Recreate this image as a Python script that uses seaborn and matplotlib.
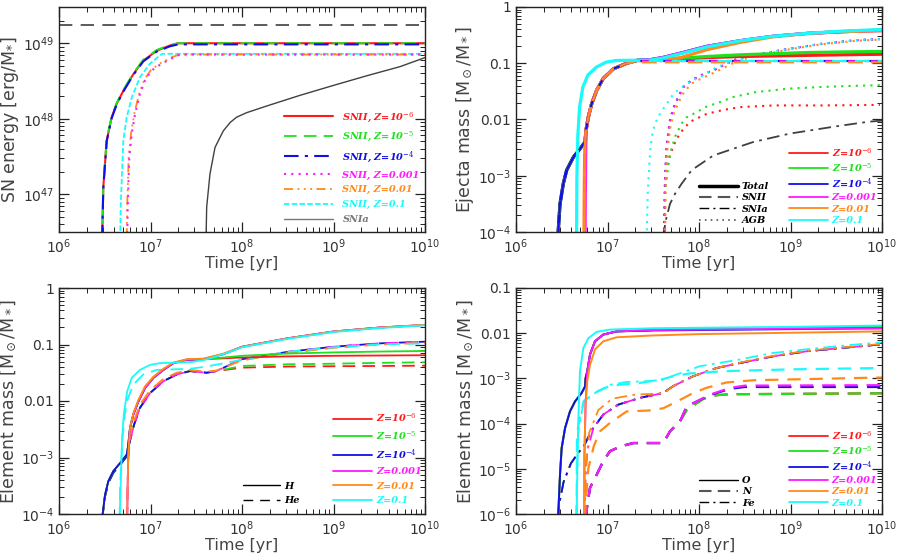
import numpy as np
import matplotlib
matplotlib.use('Agg')
import matplotlib.pyplot as plt
import seaborn as sns
from matplotlib.lines import Line2D
from matplotlib.ticker import FuncFormatter, LogLocator, NullFormatter

# --- colours per metallicity
RED, GREEN, BLUE = '#ff1a1a', '#1ee01e', '#1010e6'
MAG, ORA, CYA = '#ff1aff', '#ff8a1a', '#1afafa'
GRAY = '#404040'

z_labels = ['Z=10$^{-6}$', 'Z=10$^{-5}$', 'Z=10$^{-4}$', 'Z=0.001', 'Z=0.01', 'Z=0.1']
z_colors = [RED, GREEN, BLUE, MAG, ORA, CYA]

# ---------------- panel 1 : SN energy (log10 t, log10 E)
e_t_lowz = [6.47, 6.473, 6.484, 6.521, 6.576, 6.631, 6.703, 6.812, 6.921, 7.068, 7.213, 7.304, 10.0]
e_red = [46.0, 46.48, 47.09, 47.71, 48.02, 48.20, 48.37, 48.59, 48.77, 48.90, 48.97, 49.0, 49.0]
e_green = [46.0, 46.5, 47.1, 47.72, 48.03, 48.21, 48.38, 48.6, 48.78, 48.91, 48.975, 49.0, 49.0]
e_blue = [46.0, 46.47, 47.08, 47.70, 48.01, 48.19, 48.36, 48.58, 48.76, 48.89, 48.96, 48.985, 48.985]
e_t_mag = [6.74, 6.751, 6.768, 6.795, 6.831, 6.885, 6.940, 7.013, 7.122, 7.249, 7.32, 10.0]
e_mag = [46.0, 46.83, 47.49, 47.80, 48.06, 48.33, 48.51, 48.64, 48.73, 48.81, 48.85, 48.85]
e_t_ora = [6.735, 6.745, 6.762, 6.789, 6.825, 6.878, 6.934, 7.006, 7.115, 7.242, 7.32, 10.0]
e_ora = [46.0, 46.85, 47.5, 47.82, 48.08, 48.34, 48.52, 48.65, 48.74, 48.82, 48.85, 48.85]
e_t_cyan = [6.664, 6.674, 6.703, 6.740, 6.795, 6.885, 6.995, 7.104, 7.13, 10.0]
e_cyan = [46.0, 46.83, 47.71, 48.02, 48.28, 48.55, 48.73, 48.84, 48.86, 48.86]
e_t_snia = [7.60, 7.614, 7.650, 7.705, 7.796, 7.87, 7.94, 8.05, 8.273, 8.634, 8.995, 9.366, 9.727, 10.0]
e_snia = [46.0, 46.83, 47.27, 47.62, 47.84, 47.95, 48.02, 48.08, 48.17, 48.31, 48.44, 48.57, 48.69, 48.81]
e_t_ref = [6.0, 10.0]
e_ref = [49.24, 49.24]

# ---------------- panel 2 : ejecta mass
m_t_lowz = [6.46, 6.462, 6.481, 6.517, 6.554, 6.627, 6.700, 6.754, 6.765, 6.790, 6.827, 6.882, 6.954,
            7.064, 7.210, 7.319, 7.465, 7.6, 7.8, 8.084, 8.448, 8.812, 9.177, 9.541, 10.0]
m_tot_red = [-4.1, -3.97, -3.50, -3.14, -2.90, -2.67, -2.52, -2.40, -2.19, -1.96, -1.72, -1.48, -1.27,
             -1.10, -1.00, -0.95, -0.937, -0.93, -0.92, -0.90, -0.88, -0.87, -0.86, -0.85, -0.84]
m_tot_green = [-4.1, -3.97, -3.50, -3.14, -2.90, -2.67, -2.52, -2.40, -2.19, -1.96, -1.72, -1.48, -1.27,
               -1.10, -1.00, -0.95, -0.937, -0.93, -0.91, -0.88, -0.85, -0.83, -0.81, -0.80, -0.79]
m_tot_blue = [-4.1, -3.97, -3.50, -3.14, -2.90, -2.67, -2.52, -2.40, -2.19, -1.96, -1.72, -1.48, -1.27,
              -1.10, -1.00, -0.95, -0.937, -0.90, -0.82, -0.70, -0.60, -0.52, -0.47, -0.44, -0.41]
m_t_mag = [6.755, 6.757, 6.760, 6.763, 6.768, 6.790, 6.827, 6.882, 6.954, 7.064, 7.210, 7.319, 7.465,
           7.6, 7.8, 8.084, 8.448, 8.812, 9.177, 9.541, 10.0]
m_tot_mag = [-4.1, -3.43, -2.9, -2.45, -2.19, -1.96, -1.72, -1.48, -1.27, -1.10, -1.00, -0.95, -0.937,
             -0.90, -0.82, -0.70, -0.60, -0.52, -0.47, -0.44, -0.42]
m_t_ora = [6.743, 6.745, 6.748, 6.752, 6.765, 6.790, 6.827, 6.882, 6.954, 7.064, 7.210, 7.319, 7.465,
           7.6, 7.8, 8.084, 8.448, 8.812, 9.177, 9.541, 10.0]
m_tot_ora = [-4.1, -3.43, -2.9, -2.45, -2.19, -1.96, -1.72, -1.48, -1.27, -1.10, -1.00, -0.95, -0.96,
             -0.94, -0.90, -0.76, -0.63, -0.53, -0.47, -0.44, -0.42]
m_t_cyan = [6.662, 6.666, 6.677, 6.695, 6.731, 6.786, 6.877, 6.986, 7.095, 7.46, 7.6, 7.8, 8.084, 8.448,
            8.812, 9.177, 9.541, 10.0]
m_tot_cyan = [-4.1, -2.96, -2.25, -1.78, -1.42, -1.21, -1.07, -0.98, -0.95, -0.945, -0.91, -0.83, -0.71,
              -0.60, -0.52, -0.47, -0.43, -0.40]

m_t_snii_lowz = [6.46, 6.462, 6.481, 6.517, 6.554, 6.627, 6.700, 6.754, 6.765, 6.790, 6.827, 6.882, 6.954,
                 7.064, 7.210, 7.319, 10.0]
m_snii_lowz = [-4.1, -3.97, -3.50, -3.14, -2.90, -2.67, -2.52, -2.40, -2.19, -1.96, -1.72, -1.48, -1.27,
               -1.10, -1.00, -0.96, -0.96]
m_t_snii_mid = [6.743, 6.745, 6.748, 6.752, 6.765, 6.790, 6.827, 6.882, 6.954, 7.064, 7.210, 7.319, 10.0]
m_snii_mag = [-4.1, -3.43, -2.9, -2.45, -2.19, -1.96, -1.72, -1.48, -1.27, -1.10, -1.00, -0.965, -0.965]
m_snii_ora = [-4.1, -3.43, -2.9, -2.45, -2.19, -1.96, -1.72, -1.48, -1.27, -1.10, -1.00, -0.985, -0.985]
m_t_snii_cyan = [6.662, 6.666, 6.677, 6.695, 6.731, 6.786, 6.877, 6.986, 7.095, 10.0]
m_snii_cyan = [-4.1, -2.96, -2.25, -1.78, -1.42, -1.21, -1.07, -0.98, -0.96, -0.96]

m_t_agb_red = [7.621, 7.628, 7.65, 7.683, 7.75, 7.82, 7.902, 8.084, 8.266, 8.448, 8.812, 9.358, 9.978]
m_agb_red = [-4.1, -3.25, -2.9, -2.63, -2.36, -2.19, -2.04, -1.90, -1.83, -1.78, -1.75, -1.75, -1.74]
m_t_agb_green = [7.621, 7.63, 7.665, 7.683, 7.74, 7.811, 7.866, 7.938, 8.084, 8.23, 8.375, 8.63, 8.995,
                 9.358, 9.723, 9.978]
m_agb_green = [-4.1, -3.3, -2.79, -2.61, -2.30, -2.07, -1.96, -1.90, -1.77, -1.69, -1.60, -1.51, -1.45,
               -1.42, -1.40, -1.39]
m_t_agb_mag = [7.621, 7.628, 7.647, 7.683, 7.719, 7.774, 7.83, 7.92, 8.03, 8.19, 8.37, 8.55, 8.995, 9.358,
               9.723, 9.978]
m_agb_mag = [-4.1, -3.08, -2.45, -2.01, -1.80, -1.60, -1.42, -1.30, -1.21, -1.10, -0.95, -0.87, -0.74,
             -0.65, -0.59, -0.57]
m_t_agb_ora = [7.63, 7.637, 7.656, 7.692, 7.73, 7.785, 7.84, 7.93, 8.04, 8.2, 8.38, 8.56, 8.995, 9.358,
               9.723, 9.978]
m_agb_ora = [-4.1, -3.15, -2.52, -2.08, -1.87, -1.67, -1.50, -1.35, -1.26, -1.14, -0.99, -0.89, -0.75,
             -0.66, -0.60, -0.58]
m_t_agb_cyan = [7.428, 7.44, 7.465, 7.483, 7.519, 7.574, 7.647, 7.719, 7.792, 7.902, 8.029, 8.193, 8.339,
                8.630, 8.995, 9.358, 9.723, 9.978]
m_agb_cyan = [-4.1, -3.3, -2.58, -2.31, -2.07, -1.90, -1.72, -1.55, -1.45, -1.33, -1.23, -1.07, -0.98,
              -0.85, -0.74, -0.65, -0.59, -0.57]
m_t_snia = [7.622, 7.628, 7.683, 7.738, 7.811, 7.920, 8.156, 8.593, 8.995, 9.505, 9.850, 10.0]
m_snia = [-4.1, -3.85, -3.50, -3.32, -3.14, -2.90, -2.64, -2.40, -2.25, -2.12, -2.04, -2.02]

# ---------------- panel 3 : H (solid) and He (dashed)
h_t_lowz = [6.474, 6.477, 6.503, 6.539, 6.594, 6.667, 6.740, 6.755, 6.776, 6.812, 6.867, 6.940, 7.031,
            7.140, 7.249, 7.396, 7.577, 7.8, 8.0, 8.5, 9.0, 9.5, 10.0]
h_red = [-4.1, -4.0, -3.66, -3.42, -3.24, -3.10, -2.95, -2.80, -2.48, -2.24, -2.01, -1.77, -1.59,
         -1.45, -1.33, -1.27, -1.26, -1.245, -1.23, -1.21, -1.20, -1.195, -1.19]
h_green = [-4.1, -4.0, -3.66, -3.42, -3.24, -3.10, -2.95, -2.80, -2.48, -2.24, -2.01, -1.77, -1.59,
           -1.45, -1.33, -1.27, -1.26, -1.23, -1.20, -1.16, -1.14, -1.125, -1.115]
h_blue = [-4.1, -4.0, -3.66, -3.42, -3.24, -3.10, -2.95, -2.80, -2.48, -2.24, -2.01, -1.77, -1.59,
          -1.45, -1.33, -1.27, -1.26, -1.17, -1.04, -0.89, -0.77, -0.70, -0.655]
h_t_mid = [6.745, 6.75, 6.758, 6.776, 6.812, 6.867, 6.940, 7.031, 7.140, 7.249, 7.396, 7.577, 7.8, 8.0,
           8.5, 9.0, 9.5, 10.0]
h_mag = [-4.1, -3.5, -2.9, -2.48, -2.24, -2.01, -1.77, -1.59, -1.45, -1.33, -1.27, -1.26, -1.17, -1.04,
         -0.89, -0.77, -0.70, -0.655]
h_ora = [-4.1, -3.5, -2.9, -2.48, -2.22, -1.98, -1.74, -1.57, -1.43, -1.32, -1.26, -1.25, -1.16, -1.04,
         -0.89, -0.77, -0.70, -0.65]
h_t_cyan = [6.66, 6.664, 6.679, 6.690, 6.708, 6.745, 6.795, 6.885, 6.995, 7.104, 7.45, 7.6, 7.8, 8.0,
            8.5, 9.0, 9.5, 10.0]
h_cyan = [-4.1, -4.0, -3.24, -2.65, -2.24, -1.83, -1.59, -1.45, -1.36, -1.33, -1.31, -1.27, -1.17, -1.05,
          -0.90, -0.78, -0.71, -0.66]

he_t_lowz = [6.474, 6.477, 6.503, 6.539, 6.594, 6.667, 6.740, 6.755, 6.776, 6.82, 6.885, 6.995, 7.140,
             7.286, 7.432, 7.614, 7.72, 8.0, 8.5, 9.0, 9.5, 10.0]
he_red = [-4.1, -4.02, -3.69, -3.45, -3.27, -3.13, -2.98, -2.85, -2.7, -2.42, -2.12, -1.86, -1.65,
          -1.53, -1.47, -1.50, -1.47, -1.41, -1.39, -1.385, -1.38, -1.375]
he_green = [-4.1, -4.02, -3.69, -3.45, -3.27, -3.13, -2.98, -2.85, -2.7, -2.42, -2.12, -1.86, -1.65,
            -1.53, -1.47, -1.50, -1.47, -1.38, -1.35, -1.34, -1.325, -1.315]
he_blue = [-4.1, -4.02, -3.69, -3.45, -3.27, -3.13, -2.98, -2.85, -2.7, -2.42, -2.12, -1.86, -1.65,
           -1.53, -1.47, -1.50, -1.47, -1.26, -1.13, -1.04, -0.98, -0.95]
he_t_mid = [6.745, 6.75, 6.758, 6.776, 6.82, 6.885, 6.995, 7.140, 7.286, 7.432, 7.614, 7.72, 8.0, 8.5,
            9.0, 9.5, 10.0]
he_mag = [-4.1, -3.5, -3.0, -2.7, -2.42, -2.12, -1.86, -1.65, -1.53, -1.47, -1.50, -1.47, -1.26, -1.13,
          -1.04, -0.98, -0.95]
he_ora = [-4.1, -3.5, -2.95, -2.62, -2.35, -2.06, -1.81, -1.61, -1.50, -1.45, -1.48, -1.46, -1.28, -1.15,
          -1.06, -1.0, -0.97]
he_t_cyan = [6.662, 6.668, 6.69, 6.71, 6.740, 6.812, 6.921, 7.068, 7.432, 7.614, 8.0, 8.5, 9.0, 9.5, 10.0]
he_cyan = [-4.1, -3.5, -2.75, -2.35, -2.01, -1.71, -1.53, -1.45, -1.43, -1.39, -1.27, -1.13, -1.05, -1.0,
           -0.98]

# ---------------- panel 4 : O (solid), N (dashed), Fe (dash-dot)
o_t_lowz = [6.46, 6.462, 6.481, 6.499, 6.536, 6.590, 6.645, 6.718, 6.754, 6.76, 6.779, 6.809, 6.863,
            6.954, 7.10, 7.5, 8.0, 9.0, 10.0]
o_red = [-6.1, -6.0, -5.13, -4.54, -4.10, -3.73, -3.51, -3.32, -3.18, -3.0, -2.84, -2.47, -2.18,
         -2.03, -1.96, -1.93, -1.91, -1.88, -1.86]
o_green = [-6.1, -6.0, -5.13, -4.54, -4.10, -3.73, -3.51, -3.32, -3.18, -3.0, -2.84, -2.47, -2.18,
           -2.03, -1.96, -1.93, -1.91, -1.875, -1.855]
o_blue = [-6.1, -6.0, -5.13, -4.54, -4.10, -3.73, -3.51, -3.32, -3.18, -3.0, -2.84, -2.47, -2.18,
          -2.03, -1.96, -1.94, -1.93, -1.91, -1.89]
o_t_mid = [6.746, 6.748, 6.76, 6.779, 6.809, 6.863, 6.954, 7.10, 7.5, 8.0, 9.0, 10.0]
o_mag = [-6.1, -4.69, -3.58, -2.84, -2.47, -2.18, -2.03, -1.96, -1.93, -1.92, -1.90, -1.89]
o_ora = [-6.1, -4.7, -3.6, -3.06, -2.70, -2.36, -2.18, -2.09, -2.05, -2.02, -1.99, -1.96]
o_t_cyan = [6.662, 6.663, 6.670, 6.681, 6.699, 6.736, 6.791, 6.882, 7.027, 7.5, 8.0, 9.0, 10.0]
o_cyan = [-6.1, -6.0, -5.06, -3.95, -2.84, -2.33, -2.11, -1.97, -1.92, -1.89, -1.88, -1.86, -1.83]

fe_t_lowz = [6.46, 6.47, 6.52, 6.60, 6.69, 6.74, 6.79, 6.845, 6.954, 7.118, 7.355, 7.50, 7.61, 7.719,
             7.938, 8.193, 8.448, 8.812, 9.177, 9.541, 9.978]
fe_lowz = [-6.1, -5.80, -5.29, -4.88, -4.62, -4.51, -4.30, -4.10, -3.80, -3.58, -3.43, -3.37, -3.32,
           -3.17, -2.95, -2.77, -2.66, -2.51, -2.40, -2.33, -2.25]
fe_t_mag = [6.75, 6.76, 6.78, 6.845, 6.954, 7.118, 7.355, 7.50, 7.61, 7.719, 7.938, 8.193, 8.448, 8.812,
            9.177, 9.541, 9.978]
fe_mag = [-6.1, -5.2, -4.6, -4.10, -3.80, -3.58, -3.43, -3.37, -3.32, -3.17, -2.95, -2.77, -2.66, -2.51,
          -2.40, -2.33, -2.25]
fe_t_ora = [6.75, 6.76, 6.80, 6.90, 7.05, 7.30, 7.61, 7.719, 7.938, 8.193, 8.448, 8.812, 9.177, 9.541, 9.978]
fe_ora = [-6.1, -5.0, -4.2, -3.7, -3.45, -3.36, -3.33, -3.17, -2.95, -2.77, -2.65, -2.50, -2.39, -2.32, -2.24]
fe_t_cyan = [6.662, 6.67, 6.68, 6.74, 6.88, 7.03, 7.20, 7.45, 7.60, 7.80, 8.011, 8.45, 8.80, 9.20, 9.55, 10.0]
fe_cyan = [-6.1, -4.8, -4.2, -3.5, -3.3, -3.14, -3.08, -3.06, -3.03, -2.88, -2.73, -2.58, -2.44, -2.35,
           -2.28, -2.20]

n_t_lowz = [6.76, 6.78, 6.809, 6.882, 6.954, 7.027, 7.15, 7.282, 7.61, 7.683, 7.792, 7.866, 7.975, 8.05,
            8.2, 8.34, 10.0]
n_redgreen = [-6.1, -5.8, -5.42, -5.13, -4.83, -4.61, -4.50, -4.43, -4.43, -4.17, -3.95, -3.70, -3.55,
              -3.45, -3.37, -3.35, -3.33]
n_t_magblue = [6.76, 6.78, 6.809, 6.882, 6.954, 7.027, 7.15, 7.282, 7.61, 7.683, 7.792, 7.866, 7.975,
               8.12, 8.34, 8.5, 10.0]
n_mag = [-6.1, -5.8, -5.42, -5.13, -4.83, -4.61, -4.50, -4.43, -4.43, -4.17, -3.95, -3.62, -3.51, -3.36,
         -3.21, -3.16, -3.15]
n_blue = [-6.1, -5.8, -5.42, -5.13, -4.83, -4.61, -4.50, -4.43, -4.43, -4.17, -3.95, -3.62, -3.51, -3.37,
          -3.23, -3.19, -3.19]
n_t_ora = [6.75, 6.79, 6.85, 6.918, 7.03, 7.21, 7.46, 7.61, 7.76, 7.94, 8.08, 8.30, 8.6, 10.0]
n_ora = [-6.1, -5.0, -4.5, -4.17, -3.98, -3.73, -3.71, -3.66, -3.51, -3.32, -3.21, -3.09, -3.04, -2.98]
n_t_cyan = [6.662, 6.667, 6.68, 6.74, 6.88, 7.03, 7.355, 7.6, 7.719, 7.9, 8.27, 9.0, 10.0]
n_cyan = [-6.1, -4.3, -4.05, -3.5, -3.3, -3.16, -3.10, -3.02, -2.95, -2.89, -2.84, -2.80, -2.77]

# ---------------- styling
sns.set_theme(style='ticks')
plt.rcParams['font.family'] = ['DejaVu Sans']
plt.rcParams['mathtext.fontset'] = 'dejavuserif'
plt.rcParams['axes.edgecolor'] = '#222222'
plt.rcParams['axes.linewidth'] = 1.0
plt.rcParams['xtick.color'] = '#222222'
plt.rcParams['ytick.color'] = '#222222'

LDASH = (0, (7, 4))
DASHDOT = (0, (7, 3, 1.5, 3))
DOT = (0, (1, 2.5))
DASH3DOT = (0, (5, 2.5, 1, 2.5, 1, 2.5, 1, 2.5))
SHORTDASH = (0, (3, 1.3))
leg_font = dict(family='DejaVu Serif', style='italic', weight='bold', size=7)
leg_font1 = dict(family='DejaVu Serif', style='italic', weight='bold', size=7)


def curve(ax, lt, ly, color, ls='-', lw=1.2):
    sns.lineplot(x=10.0 ** np.asarray(lt), y=10.0 ** np.asarray(ly), ax=ax, color=color,
                 linestyle=ls, linewidth=lw, sort=False, estimator=None, legend=False)


def yfmt(v, pos):
    e = int(round(np.log10(v)))
    if e == 0:
        return '1'
    if e == -1:
        return '0.1'
    if e == -2:
        return '0.01'
    return '$\\mathdefault{10^{%d}}$' % e


def setup(ax, ylo, yhi, ylabel, custom=True):
    ax.set_xscale('log')
    ax.set_yscale('log')
    ax.set_xlim(1e6, 1e10)
    ax.set_ylim(ylo, yhi)
    ax.xaxis.set_major_locator(LogLocator(base=10, numticks=10))
    ax.xaxis.set_minor_locator(LogLocator(base=10, subs=np.arange(2, 10), numticks=20))
    ax.xaxis.set_minor_formatter(NullFormatter())
    ax.yaxis.set_major_locator(LogLocator(base=10, numticks=12))
    ax.yaxis.set_minor_locator(LogLocator(base=10, subs=np.arange(2, 10), numticks=30))
    ax.yaxis.set_minor_formatter(NullFormatter())
    if custom:
        ax.yaxis.set_major_formatter(FuncFormatter(yfmt))
    ax.tick_params(which='both', direction='in', top=True, right=True, labelsize=10,
                   labelcolor='#333333')
    ax.tick_params(which='major', length=7, width=0.9)
    ax.tick_params(which='minor', length=3.5, width=0.7)
    ax.tick_params(axis='x', which='major', pad=4)
    ax.set_xlabel('Time [yr]', fontsize=11.5, color='#444444', labelpad=0)
    ax.set_ylabel(ylabel, fontsize=12.5, color='#444444', labelpad=1)


def z_legend(ax, x0, y0, spacing, hl=4.0, lw=1.3):
    handles = [Line2D([], [], color=c, lw=lw) for c in z_colors]
    leg = ax.legend(handles, z_labels, loc='lower left', bbox_to_anchor=(x0, y0), frameon=False,
                    prop=leg_font, labelcolor=z_colors, handlelength=hl, handletextpad=0.4,
                    labelspacing=spacing, borderpad=0, borderaxespad=0)
    return leg


fig = plt.figure(figsize=(8.99, 5.55), dpi=100)
W, H = 899.0, 555.0
ax1 = fig.add_axes([59 / W, 1 - 232 / H, 366 / W, 225 / H])
ax2 = fig.add_axes([516 / W, 1 - 232 / H, 366 / W, 225 / H])
ax3 = fig.add_axes([59 / W, 1 - 514 / H, 366 / W, 226 / H])
ax4 = fig.add_axes([516 / W, 1 - 514 / H, 366 / W, 226 / H])

# ---- panel 1
setup(ax1, 10 ** 46.5, 10 ** 49.48, 'SN energy [erg/M$_{*}$]', custom=False)
curve(ax1, e_t_ref, e_ref, GRAY, (0, (8, 5)), 1.2)
curve(ax1, e_t_snia, e_snia, GRAY, '-', 1.0)
curve(ax1, e_t_cyan, e_cyan, CYA, SHORTDASH, 1.3)
curve(ax1, e_t_ora, e_ora, ORA, DASH3DOT, 1.3)
curve(ax1, e_t_mag, e_mag, MAG, DOT, 1.5)
curve(ax1, e_t_lowz, e_red, RED, '-', 1.5)
curve(ax1, e_t_lowz, e_green, GREEN, LDASH, 1.5)
curve(ax1, e_t_lowz, e_blue, BLUE, DASHDOT, 1.5)
h1 = [Line2D([], [], color=RED, lw=1.5), Line2D([], [], color=GREEN, lw=1.3, ls=LDASH),
      Line2D([], [], color=BLUE, lw=1.5, ls=DASHDOT), Line2D([], [], color=MAG, lw=1.5, ls=DOT),
      Line2D([], [], color=ORA, lw=1.3, ls=DASH3DOT), Line2D([], [], color=CYA, lw=1.3, ls=SHORTDASH),
      Line2D([], [], color='#777777', lw=1.0)]
l1 = ['SNII, ' + z for z in z_labels] + ['SNIa']
ax1.legend(h1, l1, loc='lower left', bbox_to_anchor=(0.615, 0.035), frameon=False, prop=leg_font1,
           labelcolor=z_colors + ['#777777'], handlelength=5.0, handletextpad=1.0,
           labelspacing=0.6, borderpad=0, borderaxespad=0)

# ---- panel 2
setup(ax2, 1e-4, 1, 'Ejecta mass [M$_\\odot$/M$_*$]')
curve(ax2, m_t_snia, m_snia, GRAY, DASHDOT, 1.3)
for lt, ly, c in [(m_t_agb_red, m_agb_red, RED), (m_t_agb_green, m_agb_green, GREEN),
                  (m_t_agb_mag, m_agb_mag, BLUE), (m_t_agb_mag, m_agb_mag, MAG),
                  (m_t_agb_ora, m_agb_ora, ORA), (m_t_agb_cyan, m_agb_cyan, CYA)]:
    curve(ax2, lt, ly, c, DOT, 1.5)
for lt, ly, c in [(m_t_lowz, m_tot_red, RED), (m_t_lowz, m_tot_green, GREEN),
                  (m_t_lowz, m_tot_blue, BLUE), (m_t_mag, m_tot_mag, MAG),
                  (m_t_ora, m_tot_ora, ORA), (m_t_cyan, m_tot_cyan, CYA)]:
    curve(ax2, lt, ly, c, '-', 2.3)
for lt, ly, c in [(m_t_snii_lowz, m_snii_lowz, RED), (m_t_snii_lowz, m_snii_lowz, GREEN),
                  (m_t_snii_lowz, m_snii_lowz, BLUE), (m_t_snii_mid, m_snii_mag, MAG),
                  (m_t_snii_mid, m_snii_ora, ORA), (m_t_snii_cyan, m_snii_cyan, CYA)]:
    curve(ax2, lt, ly, c, LDASH, 1.5)
hs = [Line2D([], [], color='black', lw=2.5), Line2D([], [], color='#555555', lw=1.5, ls=(0, (6, 3))),
      Line2D([], [], color='black', lw=1.0, ls=DASHDOT), Line2D([], [], color='#555555', lw=1.2, ls=DOT)]
leg_s = ax2.legend(hs, ['Total', 'SNII', 'SNIa', 'AGB'], loc='lower left', bbox_to_anchor=(0.5, 0.03),
                   frameon=False, prop=leg_font, labelcolor='black', handlelength=4.0,
                   handletextpad=0.4, labelspacing=0.25, borderpad=0, borderaxespad=0)
ax2.add_artist(leg_s)
z_legend(ax2, 0.746, 0.03, 0.25)

# ---- panel 3
setup(ax3, 1e-4, 1, 'Element mass [M$_\\odot$/M$_*$]')
for lt, ly, c in [(he_t_lowz, he_red, RED), (he_t_lowz, he_green, GREEN), (he_t_lowz, he_blue, BLUE),
                  (he_t_mid, he_mag, MAG), (he_t_mid, he_ora, ORA), (he_t_cyan, he_cyan, CYA)]:
    curve(ax3, lt, ly, c, LDASH, 1.3)
for lt, ly, c in [(h_t_lowz, h_red, RED), (h_t_lowz, h_green, GREEN), (h_t_lowz, h_blue, BLUE),
                  (h_t_mid, h_mag, MAG), (h_t_mid, h_ora, ORA), (h_t_cyan, h_cyan, CYA)]:
    curve(ax3, lt, ly, c, '-', 1.3)
hs3 = [Line2D([], [], color='black', lw=1.0), Line2D([], [], color='black', lw=1.0, ls=(0, (7, 5)))]
leg_s3 = ax3.legend(hs3, ['H', 'He'], loc='lower left', bbox_to_anchor=(0.503, 0.04), frameon=False,
                    prop=leg_font, labelcolor='black', handlelength=3.8, handletextpad=0.4,
                    labelspacing=0.55, borderpad=0, borderaxespad=0)
ax3.add_artist(leg_s3)
z_legend(ax3, 0.749, 0.04, 0.55)

# ---- panel 4
setup(ax4, 1e-6, 0.1, 'Element mass [M$_\\odot$/M$_*$]')
for lt, ly, c in [(fe_t_lowz, fe_lowz, RED), (fe_t_lowz, fe_lowz, GREEN), (fe_t_lowz, fe_lowz, BLUE),
                  (fe_t_mag, fe_mag, MAG), (fe_t_ora, fe_ora, ORA), (fe_t_cyan, fe_cyan, CYA)]:
    curve(ax4, lt, ly, c, DASHDOT, 1.3)
for lt, ly, c in [(n_t_lowz, n_redgreen, RED), (n_t_lowz, n_redgreen, GREEN), (n_t_magblue, n_blue, BLUE),
                  (n_t_magblue, n_mag, MAG), (n_t_ora, n_ora, ORA), (n_t_cyan, n_cyan, CYA)]:
    curve(ax4, lt, ly, c, (0, (6, 4)), 1.6)
for lt, ly, c in [(o_t_lowz, o_red, RED), (o_t_lowz, o_green, GREEN), (o_t_lowz, o_blue, BLUE),
                  (o_t_mid, o_mag, MAG), (o_t_mid, o_ora, ORA), (o_t_cyan, o_cyan, CYA)]:
    curve(ax4, lt, ly, c, '-', 1.4)
hs4 = [Line2D([], [], color='black', lw=1.0), Line2D([], [], color='#555555', lw=1.5, ls=(0, (6, 3))),
       Line2D([], [], color='black', lw=1.0, ls=DASHDOT)]
leg_s4 = ax4.legend(hs4, ['O', 'N', 'Fe'], loc='lower left', bbox_to_anchor=(0.5, 0.027), frameon=False,
                    prop=leg_font, labelcolor='black', handlelength=4.0, handletextpad=0.4,
                    labelspacing=0.25, borderpad=0, borderaxespad=0)
ax4.add_artist(leg_s4)
z_legend(ax4, 0.746, 0.027, 0.25)

fig.savefig('out.png', dpi=100)
